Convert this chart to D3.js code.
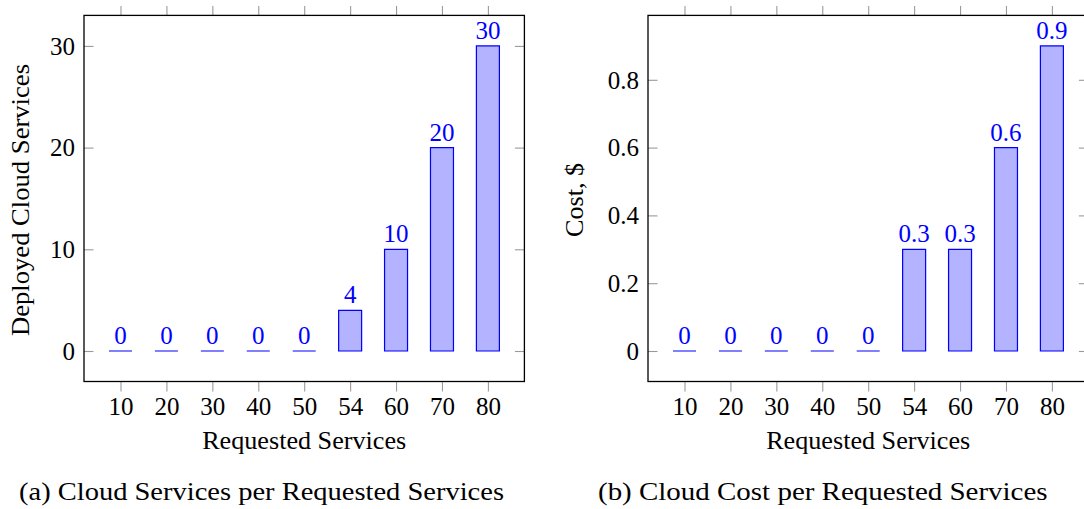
<!DOCTYPE html>
<html>
<head>
<meta charset="utf-8">
<script src="https://cdn.jsdelivr.net/npm/d3@7/dist/d3.min.js"></script>
<style>
  html, body { margin: 0; padding: 0; background: #fff; }
  svg { display: block; }
  svg text { font-family: "Liberation Serif", "Times New Roman", "DejaVu Serif", "Noto Serif", "FreeSerif", serif !important; }
</style>
</head>
<body>
<svg id="chart" width="1084" height="509"></svg>
<script>
// ---- data ----
const categories = ["10", "20", "30", "40", "50", "54", "60", "70", "80"];
const deployedServices = [0, 0, 0, 0, 0, 4, 10, 20, 30];
const cloudCost = [0, 0, 0, 0, 0, 0.3, 0.3, 0.6, 0.9];
const deployedTicks = [0, 10, 20, 30];
const costTicks = [0, 0.2, 0.4, 0.6, 0.8];
const deployedLabels = ["0", "0", "0", "0", "0", "4", "10", "20", "30"];
const costLabels = ["0", "0", "0", "0", "0", "0.3", "0.3", "0.6", "0.9"];

const svg = d3.select("#chart");
const FS = 25;
const FONT = '"Liberation Serif", "Times New Roman", "DejaVu Serif", "Noto Serif", serif';
const plotTop = 15.4, plotBottom = 381.5;

function panel(opts) {
  const g = svg.append("g").attr("font-family", FONT);
  const x = d3.scalePoint().domain(categories).range([opts.x0 + 36.5, opts.x1 - 36.5]);
  const y = d3.scaleLinear().domain(opts.yDomain).range([plotBottom, plotTop]);

  // bottom axis (outward ticks, labels)
  const gb = g.append("g").attr("transform", `translate(0,${plotBottom})`)
    .call(d3.axisBottom(x).tickSizeInner(10).tickSizeOuter(0));
  gb.attr("font-family", FONT).attr("font-size", FS);
  gb.selectAll("text").attr("y", 33.5).attr("dy", 0).attr("fill", "#000");
  // top axis (outward ticks, no labels)
  g.append("g").attr("transform", `translate(0,${plotTop})`)
    .call(d3.axisTop(x).tickSizeInner(9.5).tickSizeOuter(0).tickFormat(""));
  // left axis (inward ticks, labels)
  const gl = g.append("g").attr("transform", `translate(${opts.x0},0)`)
    .call(d3.axisLeft(y).tickValues(opts.ticks).tickSizeInner(-9.5).tickSizeOuter(0)
      .tickPadding(9).tickFormat(d => String(d)));
  gl.attr("font-family", FONT).attr("font-size", FS);
  gl.selectAll("text").attr("dy", "0.33em").attr("fill", "#000");
  // right axis (inward ticks, no labels)
  g.append("g").attr("transform", `translate(${opts.x1},0)`)
    .call(d3.axisRight(y).tickValues(opts.ticks).tickSizeInner(-9.5).tickSizeOuter(0).tickFormat(""));

  g.selectAll(".domain").remove();
  g.selectAll(".tick line").attr("stroke", "#9a9a9a").attr("stroke-width", 1.1);

  // frame
  g.append("rect")
    .attr("x", opts.x0).attr("y", plotTop)
    .attr("width", opts.x1 - opts.x0).attr("height", plotBottom - plotTop)
    .attr("fill", "none").attr("stroke", "#000").attr("stroke-width", 1.3);

  // bars
  const bw = 23;
  const y0 = y(0);
  g.append("g").selectAll("path").data(opts.values).join("path")
    .attr("d", (v, i) => {
      const cx = x(categories[i]);
      const yt = y(v);
      return `M${cx - bw / 2},${y0}H${cx + bw / 2}V${yt}H${cx - bw / 2}Z`;
    })
    .attr("fill", "#b3b3ff").attr("stroke", "#0000ff").attr("stroke-width", 1.2);

  // value labels
  g.append("g").selectAll("text").data(opts.values).join("text")
    .attr("x", (v, i) => x(categories[i]))
    .attr("y", v => y(v) - 7)
    .attr("text-anchor", "middle")
    .attr("font-size", FS).attr("fill", "#0000ff")
    .text((v, i) => opts.labels[i]);

  // x axis title
  const cxm = (opts.x0 + opts.x1) / 2;
  g.append("text").attr("x", cxm).attr("y", 449)
    .attr("text-anchor", "middle").attr("font-size", FS)
    .attr("textLength", 204).attr("lengthAdjust", "spacingAndGlyphs")
    .text("Requested Services");

  // y axis title
  g.append("text")
    .attr("transform", `translate(${opts.yTitleX},200) rotate(-90)`)
    .attr("text-anchor", "middle").attr("font-size", FS)
    .attr("textLength", opts.yTitleLen).attr("lengthAdjust", "spacingAndGlyphs")
    .text(opts.yTitle);

  // caption
  g.append("text").attr("x", opts.capX).attr("y", 500)
    .attr("text-anchor", "middle").attr("font-size", FS)
    .attr("textLength", opts.capLen).attr("lengthAdjust", "spacingAndGlyphs")
    .text(opts.caption);
}

panel({
  x0: 84, x1: 524.4, yDomain: [-3, 33], ticks: deployedTicks,
  values: deployedServices, labels: deployedLabels,
  yTitle: "Deployed Cloud Services", yTitleX: 28.5, yTitleLen: 272,
  caption: "(a) Cloud Services per Requested Services", capX: 261.5, capLen: 485
});
panel({
  x0: 648, x1: 1088.4, yDomain: [-0.09, 0.99], ticks: costTicks,
  values: cloudCost, labels: costLabels,
  yTitle: "Cost, $", yTitleX: 583, yTitleLen: 74,
  caption: "(b) Cloud Cost per Requested Services", capX: 822.8, capLen: 449.6
});
</script>
</body>
</html>
